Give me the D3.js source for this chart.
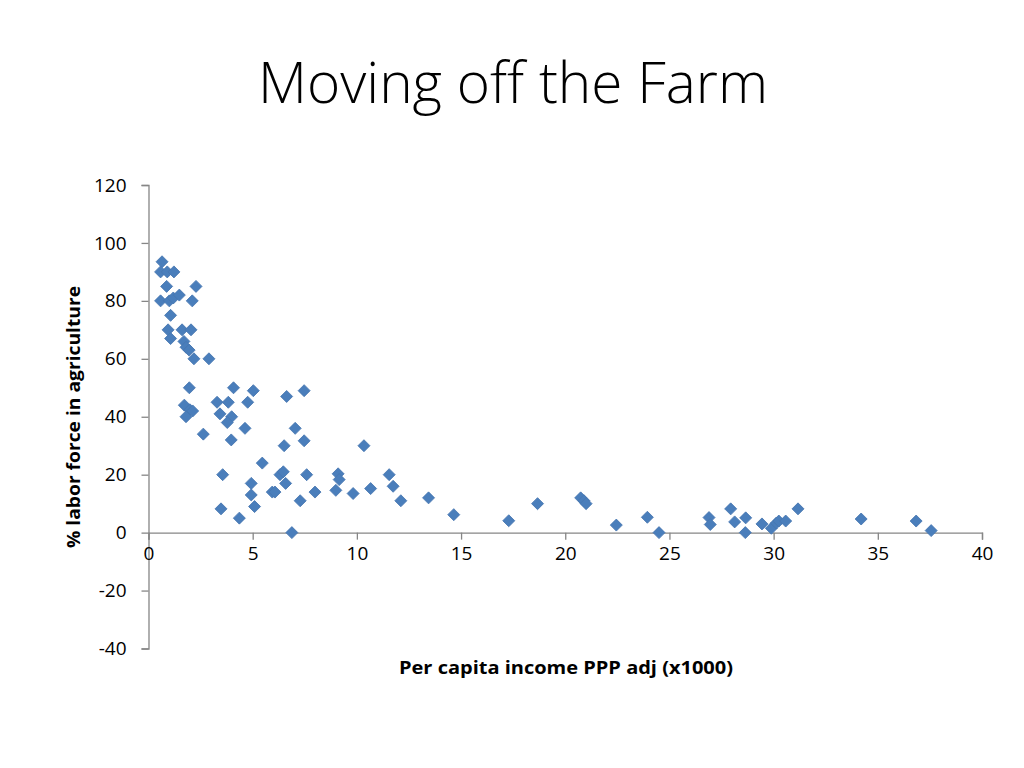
<!DOCTYPE html>
<html>
<head>
<meta charset="utf-8">
<script src="https://cdn.jsdelivr.net/npm/d3@7"></script>
<style>
  html, body { margin: 0; padding: 0; background: #fff; }
  svg { display: block; }
</style>
</head>
<body>
<svg id="chart" width="1024" height="768"></svg>
<script>
const titleText = "Moving off the Farm";
const xLabel = "Per capita income PPP adj (x1000)";
const yLabel = "% labor force in agriculture";
const xTicks = [0, 5, 10, 15, 20, 25, 30, 35, 40];
const yTicks = [-40, -20, 0, 20, 40, 60, 80, 100, 120];

const incomeValues = [
  0.65, 0.58, 0.9, 1.22, 0.87, 2.28, 0.58, 1.0, 1.19, 1.48, 2.1, 1.06, 0.94, 1.61, 2.04, 1.06,
  1.7, 1.8, 1.95, 2.18, 2.9, 1.96, 4.08, 5.03, 7.47, 6.63, 1.72, 1.99, 1.8, 2.12, 3.29, 3.83,
  4.76, 3.43, 3.99, 3.78, 4.63, 7.04, 2.63, 3.97, 7.47, 6.51, 10.34, 5.46, 3.56, 6.31, 6.47, 7.59,
  9.1, 9.15, 4.93, 6.58, 10.66, 5.94, 6.07, 7.99, 8.99, 9.82, 4.93, 7.28, 3.48, 5.09, 4.36, 6.88,
  11.55, 11.74, 12.11, 13.44, 14.65, 17.29, 18.67, 20.74, 20.9, 21.0, 22.45, 23.94, 24.5, 26.9, 26.96, 27.94,
  28.13, 28.66, 28.64, 29.44, 29.89, 30.13, 30.25, 30.58, 31.17, 34.2, 36.84, 37.56
];
const laborValues = [
  93.5, 90, 90, 90, 85, 85, 80, 80, 81, 82, 80, 75, 70, 70, 70, 67,
  66, 64, 63, 60, 60, 50, 50, 49, 49, 47, 44, 42.4, 40, 42, 45, 45,
  45, 41, 40, 38, 36, 36, 34, 32, 31.7, 30, 30, 24, 20, 20, 21, 20,
  20.3, 18.3, 17, 17, 15.2, 14, 14, 14, 14.6, 13.5, 13, 11, 8.2, 9, 5, 0,
  20, 16, 11, 12, 6.2, 4.1, 10, 12, 11, 10, 2.6, 5.3, 0, 5.2, 2.8, 8.2,
  3.7, 5.1, 0, 3, 1.5, 3.3, 4, 4, 8.2, 4.7, 4, 0.7
];

const svg = d3.select("#chart");
const font = "'Open Sans', 'Liberation Sans', sans-serif";
const axisColor = "#868686";

const x = d3.scaleLinear().domain([0, 40]).range([148.5, 982]);
const y = d3.scaleLinear().domain([-40, 120]).range([648.5, 185]);

// Title
svg.append("text")
  .attr("x", 513).attr("y", 103)
  .attr("text-anchor", "middle")
  .attr("font-family", font)
  .attr("font-weight", 300)
  .attr("font-size", 57)
  .attr("fill", "#000")
  .attr("textLength", 510)
  .attr("lengthAdjust", "spacingAndGlyphs")
  .text(titleText);

// Y axis
const yAxis = svg.append("g").attr("transform", `translate(${x(0)},0)`)
  .call(d3.axisLeft(y).tickValues(yTicks).tickSize(7).tickPadding(15).tickFormat(d3.format("d")));
yAxis.select(".domain").attr("stroke", axisColor).attr("stroke-width", 1.3);
yAxis.selectAll(".tick line").attr("stroke", axisColor).attr("stroke-width", 1.3);
yAxis.selectAll(".tick text")
  .attr("font-family", font).attr("font-size", 19).attr("fill", "#000")
  .text(d => d < 0 ? "-" + Math.abs(d) : d);

// X axis at y=0
const xAxis = svg.append("g").attr("transform", `translate(0,${y(0)})`)
  .call(d3.axisBottom(x).tickValues(xTicks).tickSize(7).tickPadding(7).tickFormat(d3.format("d")));
xAxis.select(".domain").attr("stroke", axisColor).attr("stroke-width", 1.3);
xAxis.selectAll(".tick line").attr("stroke", axisColor).attr("stroke-width", 1.3);
xAxis.selectAll(".tick text")
  .attr("font-family", font).attr("font-size", 19).attr("fill", "#000");

// Axis titles
svg.append("text")
  .attr("x", 566).attr("y", 674)
  .attr("text-anchor", "middle")
  .attr("font-family", font).attr("font-weight", "bold").attr("font-size", 18)
  .attr("fill", "#000")
  .attr("textLength", 334).attr("lengthAdjust", "spacingAndGlyphs")
  .text(xLabel);

svg.append("text")
  .attr("transform", "translate(80,417) rotate(-90)")
  .attr("text-anchor", "middle")
  .attr("font-family", font).attr("font-weight", "bold").attr("font-size", 18)
  .attr("fill", "#000")
  .attr("textLength", 262).attr("lengthAdjust", "spacingAndGlyphs")
  .text(yLabel);

// Points
const pts = incomeValues.map((v, i) => ({ x: v, y: laborValues[i] }));
const diamond = d3.symbol().type(d3.symbolSquare).size(72);
svg.append("g").selectAll("path").data(pts).join("path")
  .attr("d", diamond)
  .attr("transform", d => `translate(${x(d.x)},${y(d.y)}) rotate(45)`)
  .attr("fill", "#4a7ebb")
  .attr("stroke", "#4776b0")
  .attr("stroke-width", 0.8);
</script>
</body>
</html>
